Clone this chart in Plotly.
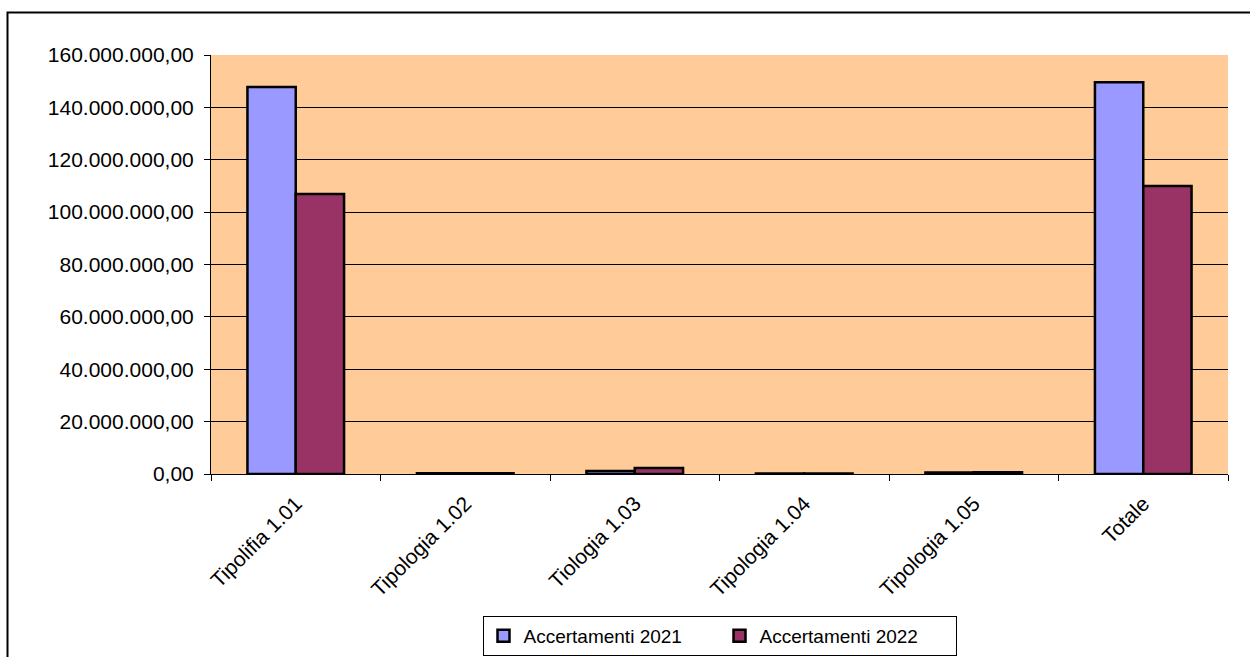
import plotly.graph_objects as go

categories = ["Tipolifia 1.01", "Tipologia 1.02", "Tiologia 1.03", "Tipologia 1.04", "Tipologia 1.05", "Totale"]
acc_2021 = [147_800_000, 300_000, 1_100_000, 200_000, 600_000, 149_600_000]
acc_2022 = [106_900_000, 300_000, 2_300_000, 200_000, 700_000, 110_000_000]
y_ticks = [0, 20_000_000, 40_000_000, 60_000_000, 80_000_000, 100_000_000, 120_000_000, 140_000_000, 160_000_000]

W, H = 1250, 657
L, R, T, B = 211, 1228, 55, 474

fig = go.Figure()
fig.add_bar(x=categories, y=acc_2021, name="Accertamenti 2021",
            marker=dict(color="#9999FF", line=dict(color="black", width=2.5)))
fig.add_bar(x=categories, y=acc_2022, name="Accertamenti 2022",
            marker=dict(color="#993366", line=dict(color="black", width=2.5)))

def px_x(p):
    return (p - L) / (R - L)

def px_y(p):
    return (B - p) / (B - T)

fig.update_layout(
    width=W, height=H,
    margin=dict(l=L, r=W - R, t=T, b=H - B, pad=0, autoexpand=False),
    paper_bgcolor="white",
    plot_bgcolor="#FFCC99",
    separators=",.",
    bargap=0.43, bargroupgap=0,
    font=dict(family="Liberation Sans, Arial, sans-serif", color="black", size=19),
    showlegend=True,
    legend=dict(orientation="h", x=0.5, xanchor="center", y=px_y(616), yanchor="top",
                bordercolor="black", borderwidth=1, bgcolor="white",
                font=dict(size=19), itemwidth=30, traceorder="normal",
                entrywidth=191, entrywidthmode="pixels"),
    xaxis=dict(showline=True, linecolor="black", linewidth=1, ticks="outside",
               tickson="boundaries", ticklen=6, tickcolor="black", tickangle=-45,
               tickfont=dict(size=21), showgrid=False, automargin=False,
               ticklabelstandoff=8),
    yaxis=dict(range=[0, 160_000_000], tickvals=y_ticks, tickformat=",.2f",
               showline=True, linecolor="black", linewidth=1, ticks="outside",
               ticklen=6, tickcolor="black", showgrid=True, gridcolor="black",
               gridwidth=1, tickfont=dict(size=21), zeroline=False, automargin=False,
               ticklabelstandoff=6),
    shapes=[dict(type="rect", xref="paper", yref="paper",
                 x0=px_x(7.5), x1=px_x(1265), y0=px_y(680), y1=px_y(12.5),
                 line=dict(color="black", width=2), fillcolor="rgba(0,0,0,0)", layer="below")],
)

fig.write_html("out.html")
